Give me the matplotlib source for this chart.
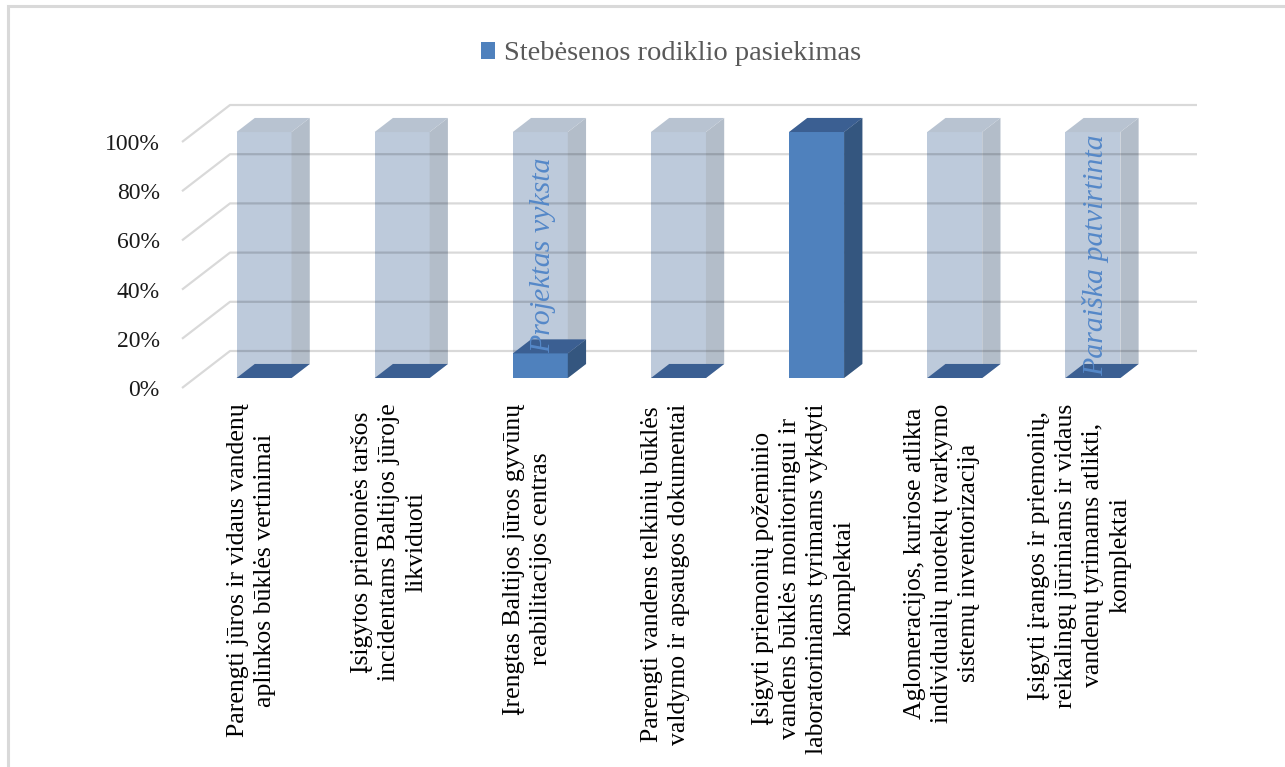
import matplotlib.pyplot as plt
import numpy as np
from matplotlib.patches import Patch, Polygon, Rectangle

categories = [
    "Parengti jūros ir vidaus vandenų\naplinkos būklės vertinimai",
    "Įsigytos priemonės taršos\nincidentams Baltijos jūroje\nlikviduoti",
    "Įrengtas Baltijos jūros gyvūnų\nreabilitacijos centras",
    "Parengti vandens telkinių būklės\nvaldymo ir apsaugos dokumentai",
    "Įsigyti priemonių požeminio\nvandens būklės monitoringui ir\nlaboratoriniams tyrimams vykdyti\nkomplektai",
    "Aglomeracijos, kuriose atlikta\nindividualių nuotekų tvarkymo\nsistemų inventorizacija",
    "Įsigyti įrangos ir priemonių,\nreikalingų jūriniams ir vidaus\nvandenų tyrimams atlikti,\nkomplektai",
]
achieved = [0.0, 0.0, 0.10, 0.0, 1.0, 0.0, 0.0]
target = [1.0, 1.0, 1.0, 1.0, 1.0, 1.0, 1.0]
notes = {2: "Projektas vyksta", 6: "Paraiška patvirtinta"}
y_ticks = [0.0, 0.2, 0.4, 0.6, 0.8, 1.0]
series_name = "Stebėsenos rodiklio pasiekimas"

SERIF = "Liberation Serif"

# pseudo-3D geometry, in data units of the front plane
DEPTH_X, DEPTH_Y = 0.3475, 0.1504
BAR_W = 0.398
F0, F1 = 0.27, 0.65

LIGHT = ("#bdcadb", "#b3bdc9", "#b8c3d1")
BLUE = ("#4f81bd", "#34567f", "#3b5f92")


def draw_box(ax, xc, height, colors, z):
    front, side, top = colors
    x0 = xc - BAR_W / 2 + F0 * DEPTH_X
    y0 = F0 * DEPTH_Y
    x1 = x0 + BAR_W
    dx = (F1 - F0) * DEPTH_X
    dy = (F1 - F0) * DEPTH_Y
    y1 = y0 + height
    faces = [
        ([(x0, y0), (x1, y0), (x1, y1), (x0, y1)], front),
        ([(x1, y0), (x1 + dx, y0 + dy), (x1 + dx, y1 + dy), (x1, y1)], side),
        ([(x0, y1), (x1, y1), (x1 + dx, y1 + dy), (x0 + dx, y1 + dy)], top),
    ]
    for pts, col in faces:
        ax.add_patch(Polygon(pts, closed=True, facecolor=col, edgecolor="none",
                             zorder=z, clip_on=False))


fig = plt.figure(figsize=(12.85, 7.67), dpi=100)
ax = fig.add_axes([182 / 1285, 1 - 388 / 767, 967 / 1285, 246 / 767])
n = len(categories)
ax.set_xlim(-0.5, n - 0.5)
ax.set_ylim(0, 1)
for s in ax.spines.values():
    s.set_visible(False)

# floor/wall gridlines: diagonal on the left wall, horizontal on the back wall
for v in y_ticks:
    xs = [-0.5, -0.5 + DEPTH_X, n - 0.5 + DEPTH_X]
    ys = [v, v + DEPTH_Y, v + DEPTH_Y]
    ax.plot(xs, ys, color="black", alpha=0.15, lw=1.6, zorder=3,
            clip_on=False, solid_capstyle="butt")

for i in range(n):
    draw_box(ax, i, target[i], LIGHT, 2)
    draw_box(ax, i, achieved[i], BLUE, 4)

for i, txt in notes.items():
    ax.text(i + F0 * DEPTH_X + 0.02, F0 * DEPTH_Y + target[i] / 2, txt,
            rotation=90, ha="center", va="center", color="#5588c8",
            fontsize=21.5, family=SERIF, style="italic", zorder=5)

ax.set_yticks(y_ticks)
ax.set_yticklabels([f"{v:.0%}" for v in y_ticks], family=SERIF, fontsize=17,
                   color="#1a1a1a")
ax.set_xticks(range(n))
ax.set_xticklabels(categories, rotation=90, family=SERIF, fontsize=18.5,
                   color="black", multialignment="center", linespacing=1.3)
ax.tick_params(axis="y", length=0, pad=16)
ax.tick_params(axis="x", length=0, pad=11)

fig.legend(handles=[Patch(facecolor=BLUE[0], edgecolor="none")],
           labels=[series_name], loc="center",
           bbox_to_anchor=(671 / 1285, 1 - 54 / 767), frameon=False,
           handlelength=0.5, handleheight=0.5, handletextpad=0.3,
           prop={"family": SERIF, "size": 20.5}, labelcolor="#595959")

# chart area border
fig.add_artist(Rectangle((7.5 / 1285, -0.1), 1.2, 1.1 - 6 / 767,
                         transform=fig.transFigure, fill=False,
                         edgecolor="#d9d9d9", lw=2.2))

fig.savefig("out.png", dpi=100)
